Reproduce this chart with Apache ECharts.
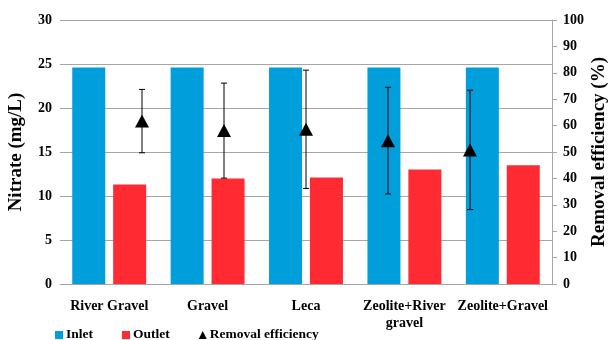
<!DOCTYPE html>
<html><head><meta charset="utf-8">
<script src="https://cdn.jsdelivr.net/npm/echarts@6/dist/echarts.min.js"></script>
<style>html,body{margin:0;padding:0;background:#fff}#c{width:611px;height:340px}</style>
</head><body><div id="c"></div>
<script>
// Filter media and measured nitrate / removal efficiency
const categories = ['River Gravel', 'Gravel', 'Leca', 'Zeolite+River\ngravel', 'Zeolite+Gravel'];
const inlet = [24.6, 24.6, 24.6, 24.6, 24.6];
const outlet = [11.3, 12.0, 12.1, 13.0, 13.5];
const removalEfficiency = [61.7, 58.1, 58.6, 54.3, 50.8];
const removalSD = [12.0, 18.0, 22.4, 20.2, 22.6];

const FONT = 'Liberation Serif';
const GRID_COLOR = '#a6a6a6';

// The efficiency markers sit on a secondary category axis with one empty slot at each end
const effSlots = ['', ...categories.map((c, i) => 'e' + i), ''];
const effPoints = [null, ...removalEfficiency, null];
const errData = removalEfficiency.map((m, i) => [i + 1, m - removalSD[i], m + removalSD[i]]);

const chart = echarts.init(document.getElementById('c'), null, {renderer: 'canvas'});
chart.setOption({
  animation: false,
  backgroundColor: '#fff',
  textStyle: {fontFamily: FONT, fontWeight: 'bold', color: '#000'},
  grid: {left: 60, right: 59, top: 20, bottom: 56, outerBoundsMode: 'none', containLabel: false},
  legend: {
    left: 50, top: 323, itemWidth: 8, itemHeight: 8, itemGap: 29,
    textStyle: {fontFamily: FONT, fontWeight: 'bold', fontSize: 13.5, color: '#000', padding: [0, 0, 0, -2]},
    data: [
      {name: 'Inlet', icon: 'rect'},
      {name: 'Outlet', icon: 'rect'},
      {name: 'Removal efficiency', icon: 'triangle', itemStyle: {color: '#000'}}
    ]
  },
  xAxis: [
    {
      type: 'category', data: categories,
      axisLine: {lineStyle: {color: GRID_COLOR}},
      axisTick: {show: false},
      axisLabel: {fontFamily: FONT, fontWeight: 'bold', fontSize: 14, color: '#000', margin: 14, interval: 0, lineHeight: 17}
    },
    {
      type: 'category', data: effSlots, boundaryGap: false, show: false
    }
  ],
  yAxis: [
    {
      type: 'value', min: 0, max: 30, interval: 5,
      name: 'Nitrate (mg/L)', nameLocation: 'middle', nameGap: 34, nameRotate: 90, nameMoveOverlap: false,
      nameTextStyle: {fontFamily: FONT, fontWeight: 'bold', fontSize: 19, color: '#000'},
      axisLine: {show: false}, axisTick: {show: false},
      axisLabel: {fontFamily: FONT, fontWeight: 'bold', fontSize: 14, color: '#000', margin: 8},
      splitLine: {lineStyle: {color: GRID_COLOR, width: 1}}
    },
    {
      type: 'value', min: 0, max: 100, interval: 10, position: 'right',
      name: 'Removal efficiency (%)', nameLocation: 'middle', nameGap: 38, nameRotate: 90, nameMoveOverlap: false,
      nameTextStyle: {fontFamily: FONT, fontWeight: 'bold', fontSize: 19, color: '#000'},
      axisLine: {show: true, lineStyle: {color: GRID_COLOR}},
      axisTick: {show: true, length: 5, lineStyle: {color: GRID_COLOR}},
      axisLabel: {fontFamily: FONT, fontWeight: 'bold', fontSize: 14, color: '#000', margin: 11},
      splitLine: {show: false}
    }
  ],
  series: [
    {
      name: 'Inlet', type: 'bar', data: inlet, barWidth: 33, barGap: '24%',
      itemStyle: {color: '#009fdc'}
    },
    {
      name: 'Outlet', type: 'bar', data: outlet, barWidth: 33,
      itemStyle: {color: '#ff2a32'}
    },
    {
      name: 'Removal efficiency-sd', type: 'custom', xAxisIndex: 1, yAxisIndex: 1,
      data: errData, z: 5,
      renderItem: function (params, api) {
        const x = api.value(0);
        const lo = api.coord([x, api.value(1)]);
        const hi = api.coord([x, api.value(2)]);
        const cap = 3;
        const st = {stroke: '#000', lineWidth: 1};
        return {
          type: 'group', children: [
            {type: 'line', shape: {x1: lo[0], y1: lo[1], x2: hi[0], y2: hi[1]}, style: st},
            {type: 'line', shape: {x1: hi[0] - cap, y1: hi[1], x2: hi[0] + cap, y2: hi[1]}, style: st},
            {type: 'line', shape: {x1: lo[0] - cap, y1: lo[1], x2: lo[0] + cap, y2: lo[1]}, style: st}
          ]
        };
      }
    },
    {
      name: 'Removal efficiency', type: 'line', xAxisIndex: 1, yAxisIndex: 1,
      data: effPoints, symbol: 'triangle', symbolSize: [14, 13], z: 6,
      lineStyle: {opacity: 0}, itemStyle: {color: '#000'}
    }
  ]
});
</script>
</body></html>
